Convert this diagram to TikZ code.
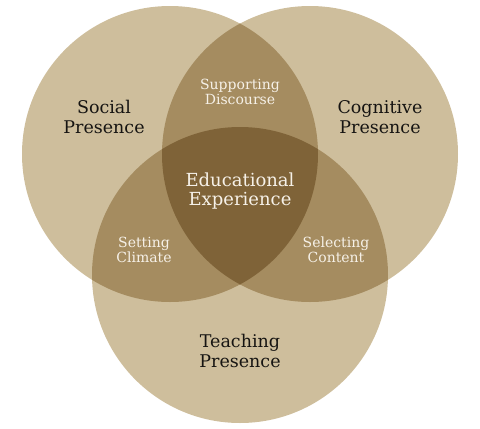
\documentclass[tikz,border=0pt]{standalone}
\usepackage{fontspec}
\setmainfont{DejaVu Serif}
\usepackage{tikz}
\usetikzlibrary{positioning}
\definecolor{VennLight}{RGB}{206,190,156}
\definecolor{VennMid}{RGB}{165,140,96}
\definecolor{VennDark}{RGB}{127,99,56}
\definecolor{VennInk}{RGB}{22,20,18}
\definecolor{VennPaper}{RGB}{246,241,232}

\begin{document}
\begin{tikzpicture}[
      x=1pt, y=-1pt,
      biglabel/.style={text=VennInk, align=center, font=\fontsize{17.5}{19.5}\selectfont},
      midlabel/.style={text=VennPaper, align=center, font=\fontsize{18}{19.5}\selectfont},
      smalllabel/.style={text=VennPaper, align=center, font=\fontsize{14}{15.5}\selectfont}
    ]
    \useasboundingbox (0,0) rectangle (480,429);
    \coordinate (social) at (170,154);
    \coordinate (cognitive) at (310,154);
    \coordinate (teaching) at (240,275);

    % single circles
    \foreach \c in {social,cognitive,teaching}
      \fill[VennLight] (\c) circle[radius=148pt];

    % pairwise overlaps
    \begin{scope}
      \clip (social) circle[radius=148pt];
      \fill[VennMid] (cognitive) circle[radius=148pt];
      \fill[VennMid] (teaching) circle[radius=148pt];
    \end{scope}
    \begin{scope}
      \clip (cognitive) circle[radius=148pt];
      \fill[VennMid] (teaching) circle[radius=148pt];
    \end{scope}

    % centre
    \begin{scope}
      \clip (social) circle[radius=148pt];
      \clip (cognitive) circle[radius=148pt];
      \fill[VennDark] (teaching) circle[radius=148pt];
    \end{scope}

    \node[biglabel] (sociallbl) at (104,117) {Social\\Presence};
    \node[biglabel] (cognitivelbl) at (380,117) {Cognitive\\Presence};
    \node[biglabel] (teachinglbl) at (240,351) {Teaching\\Presence};
    \node[midlabel] (edu) at (240,191) {Educational\\Experience};
    \node[smalllabel] (discourse) at (240,92) {Supporting\\Discourse};
    \node[smalllabel] (climate) at (144,250) {Setting\\Climate};
    \node[smalllabel] (content) at (336,250) {Selecting\\Content};
  \end{tikzpicture}
\end{document}
